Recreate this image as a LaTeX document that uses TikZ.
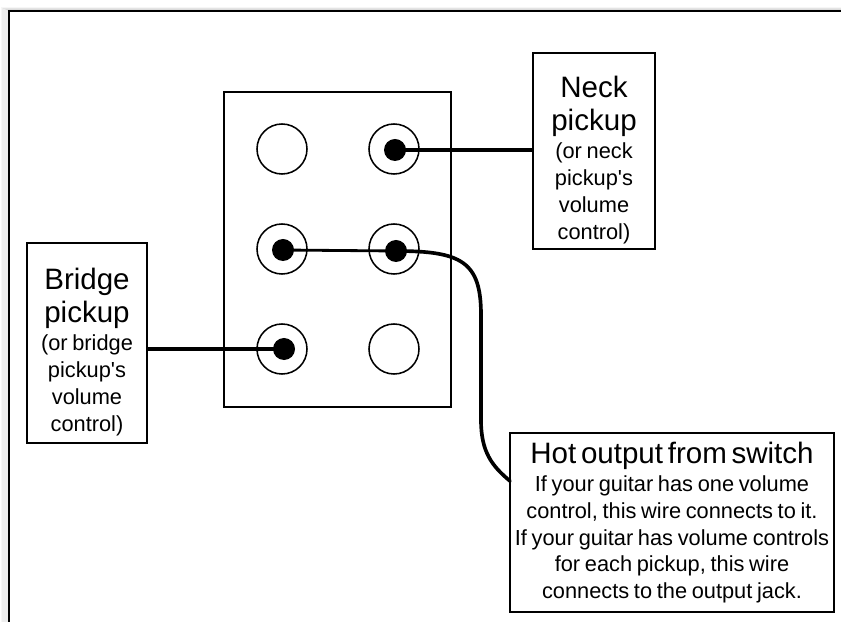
\documentclass[tikz,border=0pt]{standalone}
\usepackage{fontspec}
\setmainfont{Liberation Sans}
\usetikzlibrary{positioning}
\tikzset{
  tagbox/.style={ draw, line width=1.4pt, inner sep=0pt, align=center }
}
\tikzset{
  lug/.style={ draw, circle, line width=1.1pt, minimum size=1.25cm, inner sep=0pt }
}
\tikzset{
  solder/.style={ circle, fill=black, minimum size=0.55cm, inner sep=0pt }
}
\tikzset{
  wire/.style={ line width=2.6pt, line cap=round }
}
\newcommand{\bigtxt}{\fontsize{21}{23}\selectfont}
\newcommand{\smalltxt}{\fontsize{15.5}{19}\selectfont}
\newcommand{\topstrut}{\rule{0pt}{28pt}}

\begin{document}
\begin{tikzpicture}[x=0.025cm, y=-0.025cm]
      \clip (0,0) rectangle (841,622);
      \fill[white] (0,0) rectangle (841,622);

      % frame with soft shadow
      \foreach \d in {1,...,7}
        \draw[black, opacity=0.035, line width=1.2pt] (9-\d,11-0.4*\d) rectangle (880,650);
      \draw[line width=2pt] (9,11) rectangle (880,650);

      % switch body
      \node[draw, line width=1.4pt, minimum width=5.675cm, minimum height=7.875cm] (sw) at (337.5,249.5) {};

      \node[lug] (L1) at (282,149) {};
      \node[lug] (L2) at (394,149) {};
      \node[lug] (L3) at (282,249) {};
      \node[lug] (L4) at (394,249) {};
      \node[lug] (L5) at (282,349) {};
      \node[lug] (L6) at (394,349) {};

      \node[solder] (S2) at (395,150) {};
      \node[solder] (S3) at (283,250) {};
      \node[solder] (S4) at (396,251) {};
      \node[solder] (S5) at (284,349) {};

      % labels
      \node[tagbox, minimum width=3.05cm, minimum height=4.9cm, text width=3cm] (neck) at (594,151)
        {{\bigtxt \topstrut Neck\\pickup\par}\vspace{1.5pt}{\smalltxt (or neck\\pickup\textquotesingle s\\volume\\control)\par}};
      \node[tagbox, minimum width=3.0cm, minimum height=5.0cm, text width=2.95cm] (bridge) at (87,343)
        {{\bigtxt \topstrut Bridge\\pickup\par}\vspace{1.5pt}{\smalltxt (or bridge\\pickup\textquotesingle s\\volume\\control)\par}};
      \node[tagbox, minimum width=8.1cm, minimum height=4.475cm, text width=8.05cm] (hot) at (672,522.5)
        {{\bigtxt Hot output from switch\par}\vspace{1pt}{\smalltxt If your guitar has one volume\\control, this wire connects to it.\\If your guitar has volume controls\\for each pickup, this wire\\connects to the output jack.\par}};

      \coordinate (hotin) at (510,481);

      % wires
      \draw[wire] (S2.center) -- (S2.center -| neck.west);
      \draw[wire] (S5.center) -- (S5.center -| bridge.east);
      \draw[line width=2pt] (S3.center) -- (S4.center);
      \draw[wire] (S4.center) .. controls (462,251) and (481,262) .. (481,315)
        -- (481,420) .. controls (481,452) and (492,466) .. (hotin);
    \end{tikzpicture}
\end{document}
